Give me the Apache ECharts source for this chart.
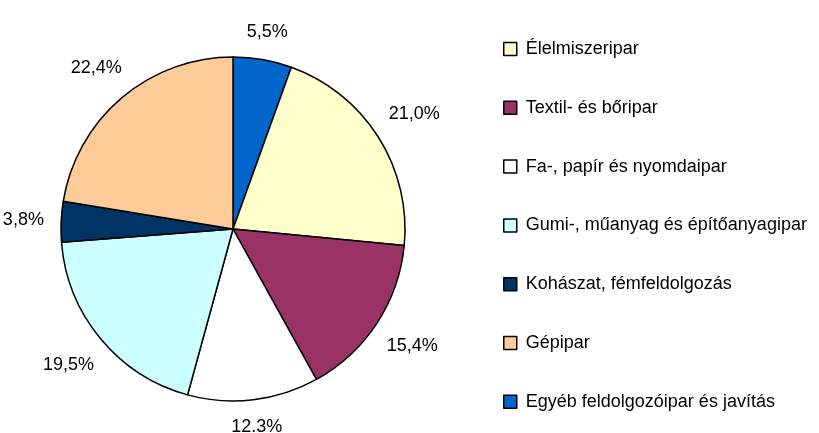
<!DOCTYPE html>
<html>
<head>
<meta charset="utf-8">
<script src="https://cdn.jsdelivr.net/npm/echarts@6/dist/echarts.min.js"></script>
<style>
html,body{margin:0;padding:0;background:#fff;}
#chart{width:819px;height:433px;}
</style>
</head>
<body>
<div id="chart"></div>
<script>
// Slices in drawing order (clockwise from 12 o'clock)
var categories = ["Egyéb feldolgozóipar és javítás", "Élelmiszeripar", "Textil- és bőripar", "Fa-, papír és nyomdaipar", "Gumi-, műanyag és építőanyagipar", "Kohászat, fémfeldolgozás", "Gépipar"];
var values = [5.5, 21.0, 15.4, 12.3, 19.5, 3.8, 22.4];
var valueLabels = ["5,5%", "21,0%", "15,4%", "12.3%", "19,5%", "3,8%", "22,4%"];
var colors = ["#0066CC", "#FFFFCC", "#993366", "#FFFFFF", "#CCFFFF", "#003366", "#FFCC99"];
// Legend order
var legendOrder = ["Élelmiszeripar", "Textil- és bőripar", "Fa-, papír és nyomdaipar", "Gumi-, műanyag és építőanyagipar", "Kohászat, fémfeldolgozás", "Gépipar", "Egyéb feldolgozóipar és javítás"];

var FONT = "'Liberation Sans', Arial, sans-serif";
var CX = 233, CY = 229, R = 172, GAP = 17;
var chart = echarts.init(document.getElementById('chart'), null, {renderer: 'canvas'});

var total = values.reduce(function (a, b) { return a + b; }, 0);
function midAngle(i) {
  var s = 0;
  for (var k = 0; k < i; k++) s += values[k];
  return (s + values[i] / 2) / total * 2 * Math.PI;
}

var pieData = categories.map(function (c, i) {
  return {name: c, value: values[i], itemStyle: {color: colors[i]}, label: {formatter: valueLabels[i]}};
});

chart.setOption({
  animation: false,
  backgroundColor: '#ffffff',
  legend: {
    orient: 'vertical',
    left: 503,
    top: 40,
    padding: 0,
    itemWidth: 13,
    itemHeight: 13,
    itemGap: 40.8,
    icon: 'rect',
    data: legendOrder,
    itemStyle: {borderColor: '#000', borderWidth: 1.5},
    textStyle: {fontFamily: FONT, fontSize: 18, color: '#000', lineHeight: 18, padding: [0, 0, 0, 4]},
    selectedMode: false
  },
  series: [
    {
      type: 'pie',
      center: [CX, CY],
      radius: [0, R],
      startAngle: 90,
      clockwise: true,
      avoidLabelOverlap: false,
      label: {show: true, position: 'outside', fontFamily: FONT, fontSize: 18, color: '#000'},
      labelLine: {show: false, length: 10, length2: 0},
      labelLayout: function (p) {
        var a = midAngle(p.dataIndex);
        var s = Math.sin(a), c = Math.cos(a);
        var w = p.labelRect.width, h = p.labelRect.height * 0.8;
        var ext = Math.abs(s) * w / 2 + Math.abs(c) * h / 2;
        var d = R + GAP + ext;
        return {x: CX + d * s, y: CY - d * c, align: 'center', verticalAlign: 'middle'};
      },
      emphasis: {disabled: true},
      itemStyle: {borderColor: '#000', borderWidth: 1.5},
      data: pieData
    }
  ]
});
</script>
</body>
</html>
